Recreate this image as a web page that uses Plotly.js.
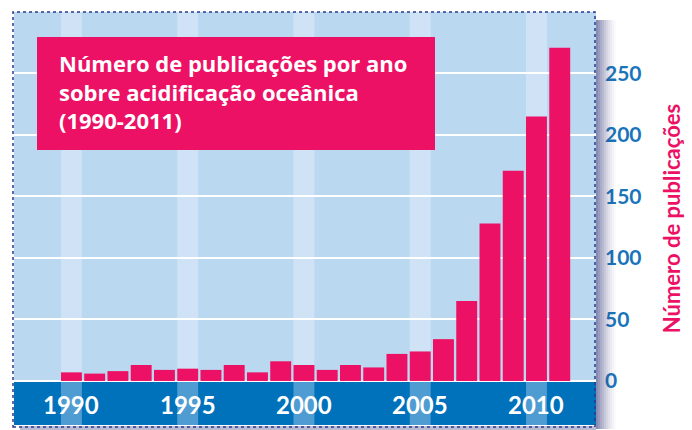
<!DOCTYPE html>
<html><head><meta charset="utf-8">
<script src="https://cdn.plot.ly/plotly-3.0.1.min.js"></script>
<style>html,body{margin:0;padding:0;background:#fff}</style>
</head><body><div id="chart" style="width:692px;height:430px"></div>
<script>
// ---- data ----
const years = [1990,1991,1992,1993,1994,1995,1996,1997,1998,1999,2000,2001,2002,2003,2004,2005,2006,2007,2008,2009,2010,2011];
const publications = [7,6,8,13,9,10,9,13,7,16,13,9,13,11,22,24,34,65,128,171,215,271];
const tickYears = [1990,1995,2000,2005,2010];
const tickLabels = ["1990","1995","2000","2005","2010"];
const yTicks = [0,50,100,150,200,250];
const chartTitle = "Número de publicações por ano<br>sobre acidificação oceânica<br>(1990-2011)";
const yTitle = "Número de publicações";

// ---- style ----
const PINK = "#ec1164";
const BG = "#bbd8f1";
const STRIPE = "#d0e3f6";
const BAND = "#0071bb";
const BAND_STRIPE = "#4e9cd1";
const TICKBLUE = "#1a74ba";
const FONT = "Lato, 'Open Sans', sans-serif";
const TFONT = "'Open Sans', Lato, sans-serif";
const yMin = -35.8, yMax = 300;
const halfW = 0.45;

const shapes = [];
tickYears.forEach(yr => shapes.push({type:"rect", xref:"x", yref:"y", x0:yr-halfW, x1:yr+halfW, y0:0, y1:yMax, fillcolor:STRIPE, line:{width:0}, layer:"below"}));
shapes.push({type:"rect", xref:"paper", yref:"y", x0:0, x1:1, y0:yMin, y1:0, fillcolor:BAND, line:{width:0}, layer:"below"});
tickYears.forEach(yr => shapes.push({type:"rect", xref:"x", yref:"y", x0:yr-halfW, x1:yr+halfW, y0:yMin, y1:0, fillcolor:BAND_STRIPE, line:{width:0}, layer:"below"}));
const pxX = 1/582, pxY = 1/413;
const nSh = 10;
for (let i = 0; i < nSh; i++) {
  const a = 0.6 * Math.pow(1 - i/nSh, 1.5);
  shapes.push({type:"rect", xref:"paper", yref:"paper", x0:1+i*2*pxX, x1:1+(i+1)*2*pxX, y0:-4*pxY, y1:1-8*pxY, fillcolor:"rgba(55,60,125,"+a.toFixed(3)+")", line:{width:0}, layer:"above"});
}
shapes.push({type:"rect", xref:"paper", yref:"paper", x0:6*pxX, x1:1, y0:-5*pxY, y1:-1*pxY, fillcolor:"rgba(55,60,125,0.35)", line:{width:0}, layer:"above"});
shapes.push({type:"rect", xref:"paper", yref:"paper", x0:-1*pxX, x1:1-1*pxX, y0:-2*pxY, y1:1, line:{color:"#2b3a8c", width:1.5, dash:"dot"}, fillcolor:"rgba(0,0,0,0)", layer:"above"});
shapes.push({type:"rect", xref:"paper", yref:"paper", x0:(37-14)*pxX, x1:(435-14)*pxX, y0:(425-150)*pxY, y1:(425-37)*pxY, fillcolor:PINK, line:{width:0}, layer:"above"});

const annotations = [];
annotations.push({xref:"paper", yref:"paper", x:(57-14)*pxX, y:(425-92)*pxY, xanchor:"left", yanchor:"middle", align:"left", showarrow:false, text:chartTitle, font:{family:TFONT, size:22, color:"#ffffff", weight:700}});
tickYears.forEach((yr,i) => annotations.push({xref:"x", yref:"y", x:yr, y:-19.5, xanchor:"center", yanchor:"middle", showarrow:false, text:tickLabels[i], font:{family:FONT, size:24, color:"#ffffff", weight:700}}));

const trace = {type:"bar", x:years, y:publications, marker:{color:PINK, line:{width:0}}, hoverinfo:"x+y"};

const layout = {
  width:692, height:430,
  margin:{l:14, r:96, t:12, b:5, pad:0},
  paper_bgcolor:"#ffffff", plot_bgcolor:BG,
  bargap:0.1,
  showlegend:false,
  xaxis:{range:[1987.53, 2012.56], showgrid:false, zeroline:false, showticklabels:false, ticks:"", showline:false, fixedrange:true},
  yaxis:{range:[yMin, yMax], side:"right", tickvals:yTicks, ticktext:yTicks.map(String), showgrid:true, gridcolor:"#ffffff", gridwidth:2, zeroline:false, ticks:"", ticklabelstandoff:8,
         tickfont:{family:FONT, size:21, color:TICKBLUE, weight:700},
         title:{text:yTitle, standoff:24, font:{family:FONT, size:22, color:PINK, weight:700}}, fixedrange:true},
  shapes:shapes,
  annotations:annotations
};
Plotly.newPlot("chart", [trace], layout, {displayModeBar:false, staticPlot:true});
</script>
</body></html>
